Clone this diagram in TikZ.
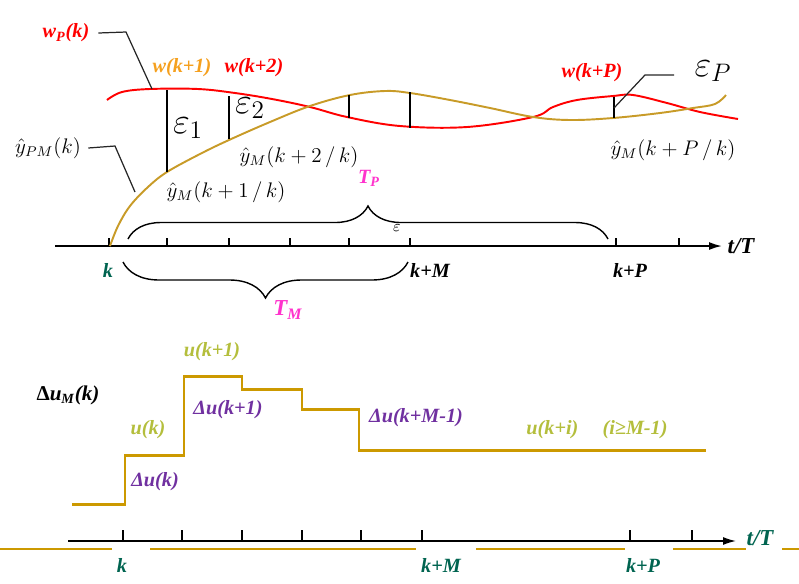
\documentclass[tikz,border=0pt]{standalone}
\usepackage{fontspec}
\setmainfont{Liberation Serif}
\usetikzlibrary{arrows.meta,decorations.pathreplacing}
\definecolor{wred}{RGB}{255,0,0}
\definecolor{yhat}{RGB}{200,155,40}
\definecolor{stepgold}{RGB}{204,153,0}
\definecolor{worange}{RGB}{245,160,30}
\definecolor{tpink}{RGB}{255,51,204}
\definecolor{kteal}{RGB}{0,100,80}
\definecolor{dupurple}{RGB}{112,48,160}
\definecolor{uolive}{RGB}{180,190,60}

\begin{document}
\begin{tikzpicture}[
  x=0.02cm, y=-0.02cm,
  lbl/.style={font=\fontsize{11.5}{13}\selectfont\bfseries\itshape, inner sep=1pt},
  mlbl/.style={font=\large, inner sep=1pt},
  eps/.style={font=\huge, inner sep=1pt},
  axis/.style={line width=1pt, -{Latex[length=2.6mm,width=1.6mm]}},
  tck/.style={line width=1pt},
  errln/.style={line width=1pt},
  lead/.style={black!85, line width=0.7pt},
  brc/.style={decorate, line width=0.8pt},
  curve/.style={line width=1.1pt},
  stp/.style={stepgold, line width=1.7pt},
]
\useasboundingbox (0,0) rectangle (799,583);

% ---- upper time axis ------------------------------------------------------
\coordinate (ax0) at (55,246);
\coordinate (ax1) at (722,246);
\draw[axis] (ax0) -- (ax1);
\foreach \x in {109,167,229,290,349,410,616,679} \draw[tck] (\x,246) -- (\x,238);
\node[lbl, font=\fontsize{13}{15}\selectfont\bfseries\itshape] (tT1) at (741,246) {t/T};
\node[lbl, kteal] (k1)  at (108,270) {k};
\node[lbl] (kM1) at (430,270) {k+M};
\node[lbl] (kP1) at (630,270) {k+P};

% braces
\draw[brc, decoration={brace, amplitude=0.66cm}] (128,239) -- (608,239);
\node[font=\small] (epsw) at (397,228) {$\varepsilon$};
\node[lbl, tpink] (TP) at (369,178) {T\textsubscript{\itshape P}};
\draw[brc, decoration={brace, mirror, amplitude=0.72cm}] (123,262) -- (408,262);
\node[lbl, tpink, font=\fontsize{13}{15}\selectfont\bfseries\itshape] (TM) at (288,310) {T\textsubscript{\itshape M}};

% ---- reference and prediction ----------------------------------------------
\draw[curve, wred] plot[smooth, tension=0.6] coordinates {
  (107,100) (122,92) (150,89) (198,89) (235,93) (272,99) (310,107) (347,117)
  (400,126) (467,127) (533,117) (553,107) (577,100) (613,96) (633,95)
  (667,103) (700,112) (738,119)};
\draw[curve, yhat] plot[smooth, tension=0.6] coordinates {
  (110,246) (118,226) (130,206) (148,187) (167,172) (200,154) (229,140)
  (270,122) (310,106) (350,95) (385,91) (410,93) (450,100) (490,108)
  (533,117) (570,120) (613,118) (660,113) (693,108) (715,104) (726,95)};

% error bars between the curves
\coordinate (e1a) at (167,90);  \coordinate (e1b) at (167,172);
\coordinate (e2a) at (229,96);  \coordinate (e2b) at (229,139);
\coordinate (e3a) at (349,95);  \coordinate (e3b) at (349,118);
\coordinate (e4a) at (410,92);  \coordinate (e4b) at (410,128);
\coordinate (ePa) at (614,97);  \coordinate (ePb) at (614,118);
\draw[errln] (e1a) -- (e1b);
\draw[errln] (e2a) -- (e2b);
\draw[errln] (e3a) -- (e3b);
\draw[line width=0.7pt] (e4a) -- (e4b);
\draw[errln] (ePa) -- (ePb);

\node[eps] (eps1) at (188,128) {$\varepsilon_1$};
\node[eps] (eps2) at (250,108) {$\varepsilon_2$};
\node[eps] (epsP) at (713,71) {$\varepsilon_P$};

\node[lbl, wred] (wPk) at (66,33) {w\textsubscript{\itshape P}(k)};
\node[lbl, worange] (w1) at (182,68) {w(k+1)};
\node[lbl, wred] (w2) at (254,68) {w(k+2)};
\node[lbl, wred] (wP) at (592,73) {w(k+P)};

\node[mlbl] (yPM) at (48,148) {$\hat{y}_{PM}\bigl(k\bigr)$};
\node[mlbl] (yk2) at (299,157) {$\hat{y}_{M}\bigl(k+2\,/\,k\bigr)$};
\node[mlbl] (yk1) at (226,192) {$\hat{y}_{M}\bigl(k+1\,/\,k\bigr)$};
\node[mlbl] (ykP) at (673,150) {$\hat{y}_{M}\bigl(k+P\,/\,k\bigr)$};

% leader lines
\coordinate (lw) at (126,32);   \coordinate (lwe) at (152,89);
\draw[lead] (wPk.east) ++(4pt,0) -- (lw) -- (lwe);
\coordinate (ly) at (115,146);  \coordinate (lye) at (135,192);
\draw[lead] (yPM.east) ++(3pt,0) -- (ly) -- (lye);
\coordinate (le) at (645,75);   \coordinate (lee) at (614,108);
\draw[lead] (674,75) -- (le) -- (lee);

% ---- control moves ---------------------------------------------------------
\draw[stp] (72,504) -- (125,504) -- (125,455) -- (184,455) -- (184,376)
  -- (242,376) -- (242,389) -- (302,389) -- (302,409) -- (359,409)
  -- (359,450) -- (706,450);

\node[lbl, font=\fontsize{12}{14}\selectfont\bfseries] (DuM) at (68,395)
  {Δ\textit{u}\textsubscript{\itshape M}\textit{(k)}};
\node[lbl, uolive] (u1)  at (212,352) {u(k+1)};
\node[lbl, uolive] (u0)  at (148,430) {u(k)};
\node[lbl, dupurple] (du0) at (155,482) {Δu(k)};
\node[lbl, dupurple] (du1) at (228,410) {Δu(k+1)};
\node[lbl, dupurple] (duM) at (416,418) {Δu(k+M-1)};
\node[lbl, uolive] (ui) at (597,430) {u(k+i)\hspace{1.2em}(i≥M-1)};

% ---- lower time axis -------------------------------------------------------
\coordinate (bx0) at (68,541);
\coordinate (bx1) at (736,541);
\draw[line width=0.8pt, -{Latex[length=2.6mm,width=1.6mm]}] (bx0) -- (bx1);
\foreach \x in {123,182,242,302,361,422,630,692} \draw[tck] (\x,541) -- (\x,530);
\foreach \a/\b in {0/112, 150/416, 476/625, 673/746, 782/799}
  \draw[stepgold, line width=1.6pt] (\a,549) -- (\b,549);
\node[lbl, kteal, font=\fontsize{13}{15}\selectfont\bfseries\itshape] (tT2) at (760,538) {t/T};
\node[lbl, kteal] (k2)  at (122,565) {k};
\node[lbl, kteal] (kM2) at (441,565) {k+M};
\node[lbl, kteal] (kP2) at (643,565) {k+P};

\end{tikzpicture}
\end{document}
